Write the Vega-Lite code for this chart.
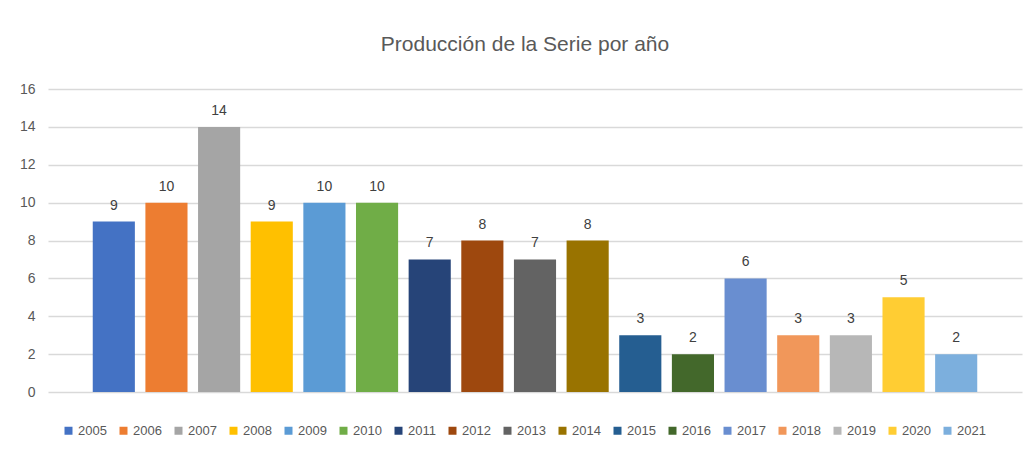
{
  "$schema": "https://vega.github.io/schema/vega-lite/v6.json",
  "width": 974,
  "height": 303,
  "autosize": {"type": "none"},
  "padding": {"left": 48, "top": 89, "right": 6, "bottom": 68},
  "background": "white",
  "title": {
    "text": "Producción de la Serie por año",
    "font": "Liberation Sans",
    "fontSize": 21,
    "fontWeight": "normal",
    "color": "#595959",
    "anchor": "middle",
    "offset": 27,
    "dx": -10
  },
  "config": {
    "view": {"stroke": null},
    "font": "Liberation Sans"
  },
  "data": {
    "values": [
      {"anio": "2005", "valor": 9},
      {"anio": "2006", "valor": 10},
      {"anio": "2007", "valor": 14},
      {"anio": "2008", "valor": 9},
      {"anio": "2009", "valor": 10},
      {"anio": "2010", "valor": 10},
      {"anio": "2011", "valor": 7},
      {"anio": "2012", "valor": 8},
      {"anio": "2013", "valor": 7},
      {"anio": "2014", "valor": 8},
      {"anio": "2015", "valor": 3},
      {"anio": "2016", "valor": 2},
      {"anio": "2017", "valor": 6},
      {"anio": "2018", "valor": 3},
      {"anio": "2019", "valor": 3},
      {"anio": "2020", "valor": 5},
      {"anio": "2021", "valor": 2}
    ]
  },
  "encoding": {
    "x": {
      "field": "anio",
      "type": "nominal",
      "sort": null,
      "axis": null,
      "scale": {"paddingInner": 0.2, "paddingOuter": 0.85}
    },
    "y": {
      "field": "valor",
      "type": "quantitative",
      "scale": {"domain": [0, 16], "nice": false},
      "axis": {
        "title": null,
        "values": [0, 2, 4, 6, 8, 10, 12, 14, 16],
        "domain": false,
        "ticks": false,
        "labelPadding": 13,
        "labelFontSize": 14,
        "labelColor": "#595959",
        "gridColor": "#d9d9d9",
        "gridWidth": 1.5
      }
    }
  },
  "layer": [
    {
      "mark": {"type": "bar"},
      "encoding": {
        "color": {
          "field": "anio",
          "type": "nominal",
          "sort": null,
          "scale": {
            "range": ["#4472C4", "#ED7D31", "#A5A5A5", "#FFC000", "#5B9BD5", "#70AD47", "#264478", "#9E480E", "#636363", "#997300", "#255E91", "#43682B", "#698ED0", "#F1975A", "#B7B7B7", "#FFCD33", "#7CAFDD"]
          },
          "legend": {
            "title": null,
            "orient": "none",
            "legendX": 14,
            "legendY": 335,
            "direction": "horizontal",
            "columns": 17,
            "symbolType": "square",
            "symbolSize": 64,
            "symbolStrokeWidth": 0,
            "labelFontSize": 13,
            "labelColor": "#595959",
            "labelOffset": 3,
            "columnPadding": 10
          }
        }
      }
    },
    {
      "mark": {"type": "text", "baseline": "alphabetic", "dy": -12, "fontSize": 14, "color": "#404040"},
      "encoding": {
        "text": {"field": "valor", "type": "quantitative"}
      }
    }
  ]
}
